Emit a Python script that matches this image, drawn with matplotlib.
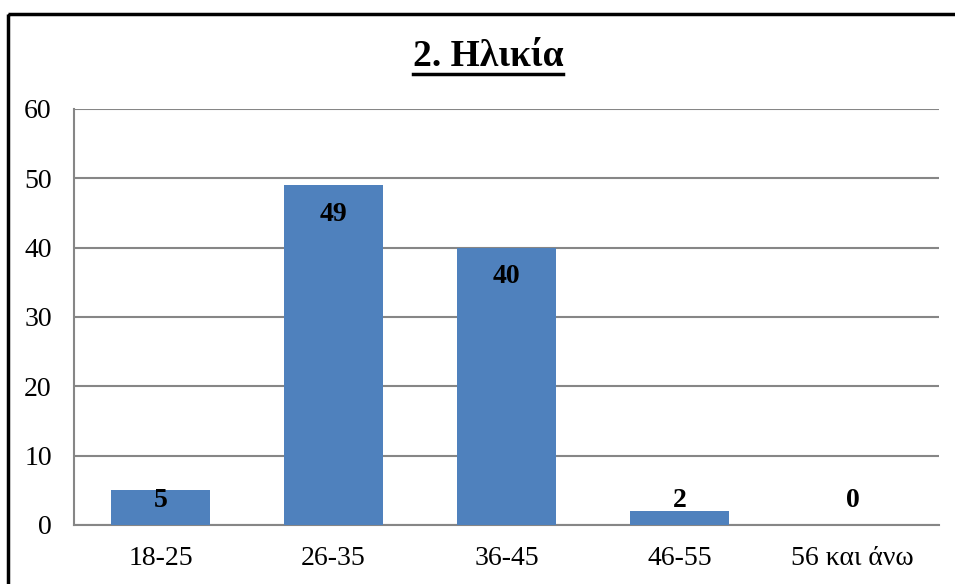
import matplotlib.pyplot as plt
from matplotlib.patches import Rectangle

# Age groups and number of responses
categories = ["18-25", "26-35", "36-45", "46-55", "56 και άνω"]
counts = [5, 49, 40, 2, 0]
yticks = [0, 10, 20, 30, 40, 50, 60]

plt.rcParams['font.family'] = ['Liberation Serif', 'DejaVu Serif']

fig = plt.figure(figsize=(9.55, 5.84), dpi=100)
ax = fig.add_axes([74 / 955, 1 - 525 / 584, 865 / 955, 416 / 584])

x = range(len(categories))
ax.bar(x, counts, width=0.567, color="#4F81BD", zorder=3)

# value labels just inside the top of each bar (kept above the axis for short bars)
for xi, v in zip(x, counts):
    ax.text(xi, max(v - 4.2, 3.6), str(v), ha="center", va="center",
            fontsize=20, fontweight="bold", zorder=4)

ax.set_xlim(-0.5, len(categories) - 0.5)
ax.set_ylim(0, 60)
ax.set_yticks(yticks)
ax.set_xticks(list(x))
ax.set_xticklabels(categories)
ax.tick_params(axis="both", length=0, labelsize=20)
ax.tick_params(axis="y", pad=16)
ax.tick_params(axis="x", pad=15)

ax.grid(axis="y", color="#868686", linewidth=1.5, zorder=0)
for side in ["top", "right"]:
    ax.spines[side].set_visible(False)
for side in ["left", "bottom"]:
    ax.spines[side].set_color("#868686")
    ax.spines[side].set_linewidth(1.5)

fig.text(488 / 955, 1 - 57 / 584, "2. Ηλικία", ha="center", va="center",
         fontsize=27, fontweight="bold")
# underline under the title
fig.add_artist(plt.Line2D([413 / 955, 563 / 955], [1 - 74 / 584, 1 - 74 / 584],
                          color="black", linewidth=2.5, transform=fig.transFigure))

# chart border running off the right and bottom edges
fig.add_artist(Rectangle((7.5 / 955, 1 - 13.5 / 584), 2, -2, fill=False,
                         edgecolor="black", linewidth=2.5,
                         transform=fig.transFigure))

fig.savefig("out.png", dpi=100)
